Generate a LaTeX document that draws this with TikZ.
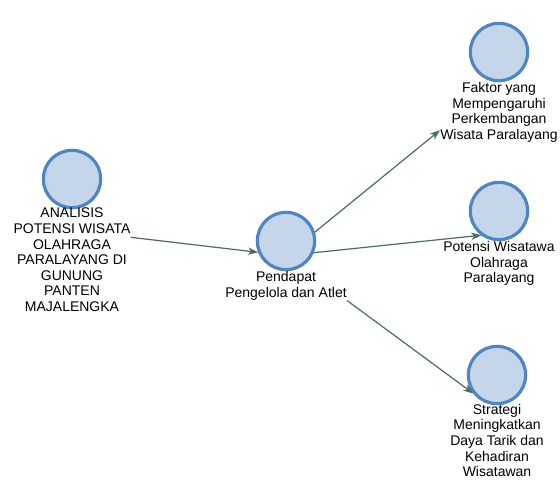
\documentclass[tikz,border=0pt]{standalone}
\usepackage{fontspec}
\setmainfont{Liberation Sans}
\usetikzlibrary{fit,intersections,arrows.meta,calc}
\definecolor{cfill}{HTML}{C5D6EA}
\definecolor{cline}{HTML}{4F86C0}
\definecolor{eline}{HTML}{4A6B66}
\tikzset{
  actor/.style={circle, draw=cline, fill=cfill, line width=2.4pt, minimum size=43pt, inner sep=0pt},
  lbl/.style={anchor=north, align=center, inner sep=0pt, font=\fontsize{10.5pt}{11.7pt}\selectfont},
  grp/.style={inner sep=0pt, draw=none},
  edge/.style={draw=eline, line width=0.9pt, -{Stealth[length=7.5pt,width=5.5pt,inset=2pt]}},
}
\begin{document}
\begin{tikzpicture}[x=0.75pt,y=-0.75pt]
\useasboundingbox (0,0) rectangle (560,480);
% nodes
\node[actor] (cL) at (72,179) {};
\node[lbl] (lL) at ([yshift=1pt]cL.south) {ANALISIS\\POTENSI WISATA\\OLAHRAGA\\PARALAYANG DI\\GUNUNG\\PANTEN\\MAJALENGKA};
\node[actor] (cM) at (286,241) {};
\node[lbl] (lM) at ([yshift=0pt]cM.south) {Pendapat\\Pengelola dan Atlet};
\node[actor] (cT) at (499,52) {};
\node[lbl] (lT) at ([yshift=0pt]cT.south) {Faktor yang\\Mempengaruhi\\Perkembangan\\Wisata Paralayang};
\node[actor] (cR) at (499,211) {};
\node[lbl] (lR) at ([yshift=0pt]cR.south) {Potensi Wisatawa\\Olahraga\\Paralayang};
\node[actor] (cB) at (497,375) {};
\node[lbl] (lB) at ([yshift=1pt]cB.south) {Strategi\\Meningkatkan\\Daya Tarik dan\\Kehadiran\\Wisatawan};
% groups
\node[grp, fit=(cL)(lL)] (gL) {};
\node[grp, fit=(cM)(lM)] (gM) {};
\node[grp, fit=(cT)(lT)] (gT) {};
\node[grp, fit=(cR)(lR)] (gR) {};
\node[grp, fit=(cB)(lB)] (gB) {};
% clipping outlines
\path[name path=rL] (lL.south west) rectangle (lL.north east);
\path[name path=rM] (lM.south west) rectangle (lM.north east);
\path[name path=rT] (lT.south west) rectangle (lT.north east);
\path[name path=pM] (cM.center) circle[radius=22.5pt];
\path[name path=pR] (cR.center) circle[radius=22.5pt];
\path[name path=pB] (cB.center) circle[radius=22.5pt];
% edge lines (extended past the target so the target outline is always crossed)
\path[name path=e1] (gL.center) -- ($(gL.center)!1.6!(gM.center)$);
\path[name path=e2] (gM.center) -- ($(gM.center)!1.6!(gT.center)$);
\path[name path=e3] (gM.center) -- ($(gM.center)!1.6!(gR.center)$);
\path[name path=e4] (gM.center) -- ($(gM.center)!1.6!(gB.center)$);
\path[name intersections={of=e1 and rL, sort by=e1, by={a1}}];
\path[name intersections={of=e1 and pM, sort by=e1, by={b1}}];
\path[name intersections={of=e2 and pM, sort by=e2, by={a2}}];
\path[name intersections={of=e2 and rT, sort by=e2, by={b2}}];
\path[name intersections={of=e3 and pM, sort by=e3, by={a3}}];
\path[name intersections={of=e3 and pR, sort by=e3, by={b3}}];
\path[name intersections={of=e4 and rM, sort by=e4, by={t4,a4}}];
\path[name intersections={of=e4 and pB, sort by=e4, by={b4}}];
\draw[edge] (a1) -- (b1);
\draw[edge] (a2) -- (b2);
\draw[edge] (a3) -- (b3);
\draw[edge] (a4) -- (b4);
\end{tikzpicture}
\end{document}
